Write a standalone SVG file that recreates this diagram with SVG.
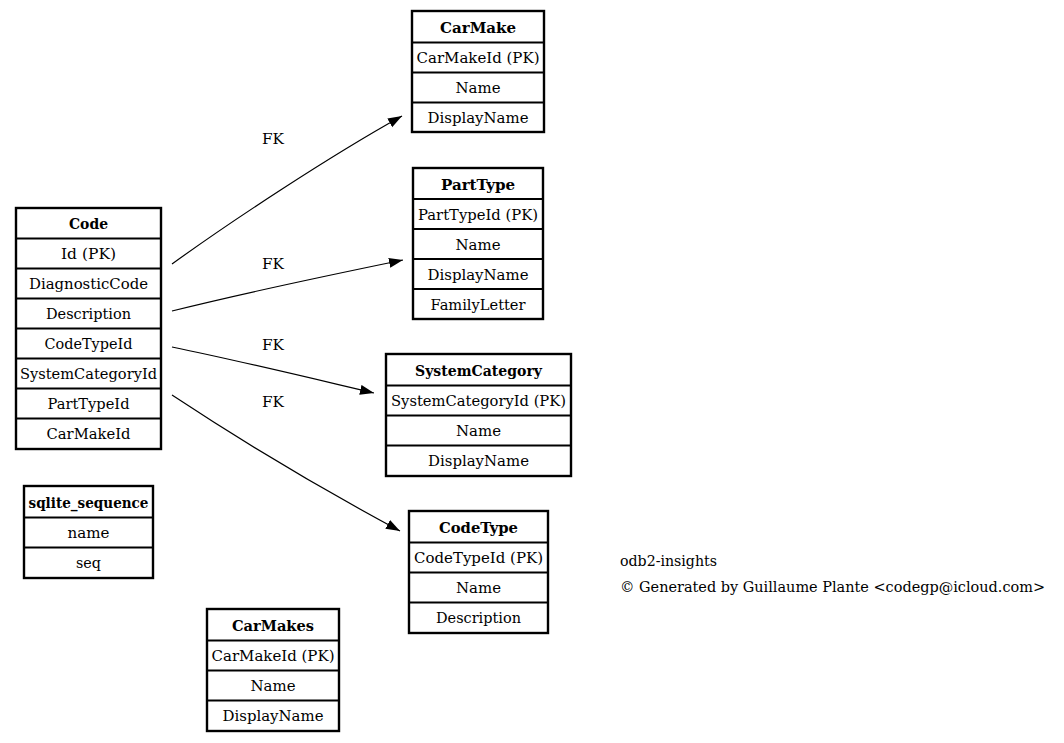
<svg xmlns="http://www.w3.org/2000/svg" width="1064" height="743" viewBox="0 0 1064 743" font-family="'DejaVu Serif', 'Liberation Serif', serif">
<style>
.box{fill:#fff;stroke:#000;stroke-width:2.4}
.sep{stroke:#000;stroke-width:1.8}
text{font-family:'DejaVu Serif','Liberation Serif',serif;font-size:14.5px;fill:#000}
.c{text-anchor:middle}
.h{font-weight:bold}
.edge{fill:none;stroke:#000;stroke-width:1.2}
</style>
<defs>
<marker id="arr" markerUnits="userSpaceOnUse" markerWidth="15" markerHeight="11" refX="14" refY="5" orient="auto">
<path d="M0,0 L14,5 L0,10 z" fill="#000"/>
</marker>
</defs>
<rect width="1064" height="743" fill="#fff"/>
<g id="connectors">
<path class="edge" marker-end="url(#arr)" d="M172,264 C230,222 330,156 402,116"/>
<path class="edge" marker-end="url(#arr)" d="M172,311 C240,294 330,275 403,260"/>
<path class="edge" marker-end="url(#arr)" d="M172,347 C240,361 310,378 374,393"/>
<path class="edge" marker-end="url(#arr)" d="M172,395 C240,440 320,488 400,531"/>
<text class="c" x="273" y="144" textLength="22" lengthAdjust="spacingAndGlyphs">FK</text>
<text class="c" x="273" y="269" textLength="22" lengthAdjust="spacingAndGlyphs">FK</text>
<text class="c" x="273" y="350" textLength="22" lengthAdjust="spacingAndGlyphs">FK</text>
<text class="c" x="273" y="407" textLength="22" lengthAdjust="spacingAndGlyphs">FK</text>
</g>
<g id="Code">
<rect class="box" x="16" y="208" width="145" height="241"/>
<path class="sep" d="M16,238.5H161M16,268.5H161M16,298.5H161M16,328.5H161M16,358.5H161M16,388.5H161M16,418.5H161"/>
<text class="c h" x="88.5" y="229" textLength="39" lengthAdjust="spacingAndGlyphs">Code</text>
<text class="c" x="88.5" y="259" textLength="55" lengthAdjust="spacingAndGlyphs">Id (PK)</text>
<text class="c" x="88.5" y="289" textLength="119" lengthAdjust="spacingAndGlyphs">DiagnosticCode</text>
<text class="c" x="88.5" y="319" textLength="85" lengthAdjust="spacingAndGlyphs">Description</text>
<text class="c" x="88.5" y="349" textLength="88" lengthAdjust="spacingAndGlyphs">CodeTypeId</text>
<text class="c" x="88.5" y="379" textLength="137" lengthAdjust="spacingAndGlyphs">SystemCategoryId</text>
<text class="c" x="88.5" y="409" textLength="82" lengthAdjust="spacingAndGlyphs">PartTypeId</text>
<text class="c" x="88.5" y="439" textLength="84" lengthAdjust="spacingAndGlyphs">CarMakeId</text>
</g>
<g id="CarMake">
<rect class="box" x="412" y="11" width="132" height="121"/>
<path class="sep" d="M412,42.5H544M412,72.5H544M412,102.5H544"/>
<text class="c h" x="478" y="33" textLength="76" lengthAdjust="spacingAndGlyphs">CarMake</text>
<text class="c" x="478" y="63" textLength="123" lengthAdjust="spacingAndGlyphs">CarMakeId (PK)</text>
<text class="c" x="478" y="93" textLength="45" lengthAdjust="spacingAndGlyphs">Name</text>
<text class="c" x="478" y="123" textLength="101" lengthAdjust="spacingAndGlyphs">DisplayName</text>
</g>
<g id="PartType">
<rect class="box" x="413" y="168" width="130" height="151"/>
<path class="sep" d="M413,199H543M413,229H543M413,259H543M413,289H543"/>
<text class="c h" x="478" y="190" textLength="74" lengthAdjust="spacingAndGlyphs">PartType</text>
<text class="c" x="478" y="220" textLength="120" lengthAdjust="spacingAndGlyphs">PartTypeId (PK)</text>
<text class="c" x="478" y="250" textLength="45" lengthAdjust="spacingAndGlyphs">Name</text>
<text class="c" x="478" y="280" textLength="101" lengthAdjust="spacingAndGlyphs">DisplayName</text>
<text class="c" x="478" y="310" textLength="95" lengthAdjust="spacingAndGlyphs">FamilyLetter</text>
</g>
<g id="SystemCategory">
<rect class="box" x="386" y="354" width="185" height="122"/>
<path class="sep" d="M386,385.5H571M386,415.5H571M386,445.5H571"/>
<text class="c h" x="478.5" y="376" textLength="127" lengthAdjust="spacingAndGlyphs">SystemCategory</text>
<text class="c" x="478.5" y="406" textLength="175" lengthAdjust="spacingAndGlyphs">SystemCategoryId (PK)</text>
<text class="c" x="478.5" y="436" textLength="45" lengthAdjust="spacingAndGlyphs">Name</text>
<text class="c" x="478.5" y="466" textLength="101" lengthAdjust="spacingAndGlyphs">DisplayName</text>
</g>
<g id="CodeType">
<rect class="box" x="409" y="511" width="139" height="122"/>
<path class="sep" d="M409,542.5H548M409,572.5H548M409,602.5H548"/>
<text class="c h" x="478.5" y="533" textLength="79" lengthAdjust="spacingAndGlyphs">CodeType</text>
<text class="c" x="478.5" y="563" textLength="129" lengthAdjust="spacingAndGlyphs">CodeTypeId (PK)</text>
<text class="c" x="478.5" y="593" textLength="45" lengthAdjust="spacingAndGlyphs">Name</text>
<text class="c" x="478.5" y="623" textLength="85" lengthAdjust="spacingAndGlyphs">Description</text>
</g>
<g id="sqlite_sequence">
<rect class="box" x="24" y="486" width="129" height="92"/>
<path class="sep" d="M24,517.5H153M24,547.5H153"/>
<text class="c h" x="88.5" y="508" textLength="120" lengthAdjust="spacingAndGlyphs">sqlite_sequence</text>
<text class="c" x="88.5" y="538" textLength="42" lengthAdjust="spacingAndGlyphs">name</text>
<text class="c" x="88.5" y="568" textLength="25" lengthAdjust="spacingAndGlyphs">seq</text>
</g>
<g id="CarMakes">
<rect class="box" x="207" y="609" width="132" height="122"/>
<path class="sep" d="M207,640.5H339M207,670.5H339M207,700.5H339"/>
<text class="c h" x="273" y="631" textLength="82" lengthAdjust="spacingAndGlyphs">CarMakes</text>
<text class="c" x="273" y="661" textLength="123" lengthAdjust="spacingAndGlyphs">CarMakeId (PK)</text>
<text class="c" x="273" y="691" textLength="45" lengthAdjust="spacingAndGlyphs">Name</text>
<text class="c" x="273" y="721" textLength="101" lengthAdjust="spacingAndGlyphs">DisplayName</text>
</g>
<g id="footer">
<text x="620" y="566" textLength="97" lengthAdjust="spacingAndGlyphs">odb2-insights</text>
<text x="620" y="592" textLength="425" lengthAdjust="spacingAndGlyphs">© Generated by Guillaume Plante &lt;codegp@icloud.com&gt;</text>
</g>
</svg>
